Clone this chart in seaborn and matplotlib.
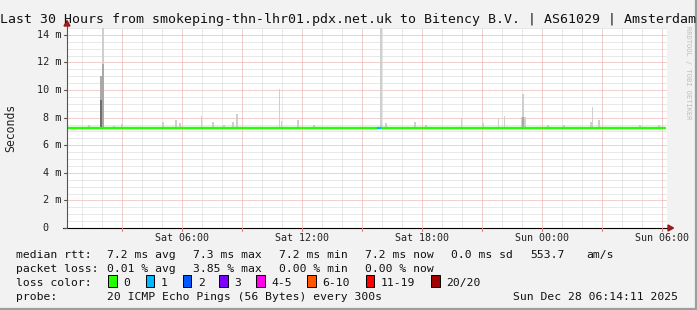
import matplotlib
matplotlib.use("Agg")
import matplotlib.pyplot as plt
import seaborn as sns
import numpy as np
from matplotlib.patches import Rectangle, Polygon
from matplotlib.lines import Line2D
import matplotlib.transforms as mtrans

# ---------------- data ----------------
title = "Last 30 Hours from smokeping-thn-lhr01.pdx.net.uk to Bitency B.V. | AS61029 | Amsterdam"

y_ticks = [0, 2, 4, 6, 8, 10, 12, 14]
y_tick_labels = ["0", "2 m", "4 m", "6 m", "8 m", "10 m", "12 m", "14 m"]
x_ticks = [6, 12, 18, 24, 30]                      # hours since Sat 00:00
x_tick_labels = ["Sat 06:00", "Sat 12:00", "Sat 18:00", "Sun 00:00", "Sun 06:00"]

# median rtt segments (ms), coloured by packet loss
median_start = [0.27, 15.80, 16.02]
median_end = [15.80, 16.02, 30.17]
median_value = [7.26, 7.26, 7.26]
median_loss = ["0", "1", "0"]

# smoke (ping spread above median), per 5-minute sample
smoke_hours = [1.38, 1.98, 2.07, 2.60, 3.00, 5.07, 5.72, 5.92, 6.99, 7.55,
               8.10, 8.57, 8.77, 10.89, 10.99, 11.82, 12.60, 15.97, 16.22,
               17.67, 18.20, 19.99, 21.07, 21.84, 22.14, 23.00, 23.08, 23.17,
               24.30, 25.10, 26.47, 26.54, 26.87, 28.90, 29.87]
smoke_hi = [7.45, 11.0, 14.6, 7.40, 7.55, 7.69, 7.80, 7.60, 8.10, 7.70,
            7.45, 7.69, 8.29, 10.10, 7.78, 7.83, 7.45, 14.55, 7.60,
            7.65, 7.45, 7.98, 7.63, 7.90, 8.15, 8.05, 9.74, 8.05,
            7.45, 7.45, 7.71, 8.77, 7.85, 7.45, 7.50]
smoke_mid = [7.26, 11.0, 11.9, 7.26, 7.26, 7.26, 7.26, 7.26, 7.26, 7.26,
             7.26, 7.26, 7.26, 7.26, 7.26, 7.26, 7.26, 7.26, 7.26,
             7.26, 7.26, 7.26, 7.26, 7.26, 7.26, 7.26, 8.05, 7.26,
             7.26, 7.26, 7.26, 7.26, 7.26, 7.26, 7.26]
smoke_lo = [7.26, 9.3, 7.26, 7.26, 7.26, 7.26, 7.26, 7.26, 7.26, 7.26,
            7.26, 7.26, 7.26, 7.26, 7.26, 7.26, 7.26, 7.26, 7.26,
            7.26, 7.26, 7.26, 7.26, 7.26, 7.26, 7.26, 7.26, 7.26,
            7.26, 7.26, 7.26, 7.26, 7.26, 7.26, 7.26]

loss_labels = ["0", "1", "2", "3", "4-5", "6-10", "11-19", "20/20"]
loss_colors = ["#26ff00", "#00b8ff", "#0059ff", "#7e00ff", "#ff00ea",
               "#ff5500", "#ff0000", "#a10000"]

stats_rtt = ["7.2 ms avg", "7.3 ms max", "7.2 ms min", "7.2 ms now", "0.0 ms sd", "553.7", "am/s"]
stats_loss = ["0.01 % avg", "3.85 % max", "0.00 % min", "0.00 % now"]
probe_text = "20 ICMP Echo Pings (56 Bytes) every 300s"
date_text = "Sun Dec 28 06:14:11 2025"

# ---------------- style ----------------
W, H = 697, 310
sns.set_style("white")
plt.rcParams["font.family"] = ["DejaVu Sans Mono"]
MONO = "DejaVu Sans Mono"

fig = plt.figure(figsize=(W / 100, H / 100), dpi=100)
fig.patch.set_facecolor("#f2f2f2")

PL, PR, PT, PB = 67, 667, 28, 228
ax = fig.add_axes([PL / W, 1 - PB / H, (PR - PL) / W, (PB - PT) / H])
ax.set_facecolor("white")
ax.set_xlim(0.265, 30.265)
ax.set_ylim(0, 14.5)
for s in ax.spines.values():
    s.set_visible(False)
ax.set_xticks([])
ax.set_yticks([])

# grid (1px dotted)
dot = (0, (1, 1))
for yv in np.arange(0.5, 14.6, 0.5):
    major = abs(yv / 2 - round(yv / 2)) < 1e-6
    ax.axhline(yv, color="#e4a0a0" if major else "#d2d2d2", lw=0.72,
               ls=dot, zorder=0)
for xv in range(1, 31):
    major = xv % 3 == 0
    ax.axvline(xv, color="#e4a0a0" if major else "#d2d2d2", lw=0.72,
               ls=dot, zorder=0)

# smoke
hours = np.array(smoke_hours)
hi = np.array(smoke_hi)
mid = np.array(smoke_mid)
lo = np.array(smoke_lo)
base = 7.26
bw = 1 / 12
ax.bar(hours, hi - base, bottom=base, width=bw, color="#cfcfcf", lw=0, zorder=2)
ax.bar(hours, mid - base, bottom=base, width=bw, color="#a9a9a9", lw=0, zorder=3)
ax.bar(hours, lo - base, bottom=base, width=bw, color="#6e6e6e", lw=0, zorder=4)

# median line segments
cmap = dict(zip(loss_labels, loss_colors))
for s, e, v, l in zip(median_start, median_end, median_value, median_loss):
    sns.lineplot(x=[s, e], y=[v, v], ax=ax, color=cmap[l], lw=1.75,
                 zorder=5, legend=False)
ax.set_xlabel("")
ax.set_ylabel("")

# axes lines
ax.plot([0, 0], [0, 1.02], transform=ax.transAxes, color="#555555",
        lw=0.8, clip_on=False, zorder=6)
ax.plot([-0.006, 1.008], [0, 0], transform=ax.transAxes, color="black",
        lw=0.8, clip_on=False, zorder=6)

def fx(x):
    return x / W

def fy(y):
    return 1 - y / H

# arrows
arrow_col = "#9b1c1c"
fig.add_artist(Polygon([[fx(64), fy(26)], [fx(70), fy(26)], [fx(67), fy(20.5)]],
                       closed=True, color=arrow_col, transform=fig.transFigure))
fig.add_artist(Polygon([[fx(668), fy(225)], [fx(668), fy(231)], [fx(673.5), fy(228)]],
                       closed=True, color=arrow_col, transform=fig.transFigure))

# y ticks & labels
ytrans = mtrans.blended_transform_factory(fig.transFigure, ax.transData)
for v, lab in zip(y_ticks, y_tick_labels):
    fig.add_artist(Line2D([fx(63.5), fx(67)], [v, v], color="#555555", lw=0.8,
                          transform=ytrans))
    xr = 61 if lab != "0" else 48.5
    fig.text(fx(xr), v, lab, transform=ytrans, ha="right", va="center",
             fontsize=7.3, family=MONO, color="#222222")

# x ticks & labels
xtrans = mtrans.blended_transform_factory(ax.transData, fig.transFigure)
for xv in range(3, 31, 3):
    fig.add_artist(Line2D([xv, xv], [fy(228), fy(230.5)], color="#e08080", lw=0.8,
                          transform=xtrans))
for v, lab in zip(x_ticks, x_tick_labels):
    fig.text(v, fy(241), lab, transform=xtrans, ha="center", va="baseline",
             fontsize=7.2, family=MONO, color="#222222")

# title
fig.text(fx(348), fy(23.3), title, ha="center", va="baseline",
         fontsize=9.5, family=MONO, color="#111111")

# y label
fig.text(fx(10.5), fy(128), "Seconds", rotation=90, ha="center", va="center",
         fontsize=8.3, family=MONO, color="#222222")

# rrdtool credit
fig.text(fx(688.3), fy(26.5), "RRDTOOL / TOBI OETIKER", rotation=270,
         ha="center", va="top", fontsize=5.0, family=MONO, color="#bdbdbd")

# legend rows
FS = 8.2
def ftext(x, y, s, **kw):
    fig.text(fx(x), fy(y), s, ha="left", va="baseline", fontsize=FS,
             family=MONO, color="#111111", **kw)

ftext(16, 258.3, "median rtt:")
for x, s in zip([107.3, 193.3, 279.3, 365, 451, 530, 586], stats_rtt):
    ftext(x, 258.3, s)
ftext(16, 272.3, "packet loss:")
for x, s in zip([107.3, 193.3, 279.3, 365], stats_loss):
    ftext(x, 272.3, s)
ftext(16, 286.3, "loss color:")
box_x = [108.3, 145.7, 182.7, 219.3, 256, 307.3, 365.7, 431]
for bx, lab, col in zip(box_x, loss_labels, loss_colors):
    fig.add_artist(Rectangle((fx(bx), fy(287)), 8.7 / W, 12.3 / H,
                             facecolor=col, edgecolor="black", lw=0.7,
                             transform=fig.transFigure))
    ftext(bx + 15, 286.3, lab)
ftext(16, 300.3, "probe:")
ftext(107.3, 300.3, probe_text)
ftext(513.3, 300.3, date_text)

# frame shading
fig.add_artist(Line2D([0, 1], [fy(308.5), fy(308.5)], color="#9e9e9e", lw=1.6,
                      transform=fig.transFigure))
fig.add_artist(Line2D([fx(695.8), fx(695.8)], [0, 1], color="#9e9e9e", lw=1.6,
                      transform=fig.transFigure))

fig.savefig("out.png", dpi=100, facecolor=fig.get_facecolor())
